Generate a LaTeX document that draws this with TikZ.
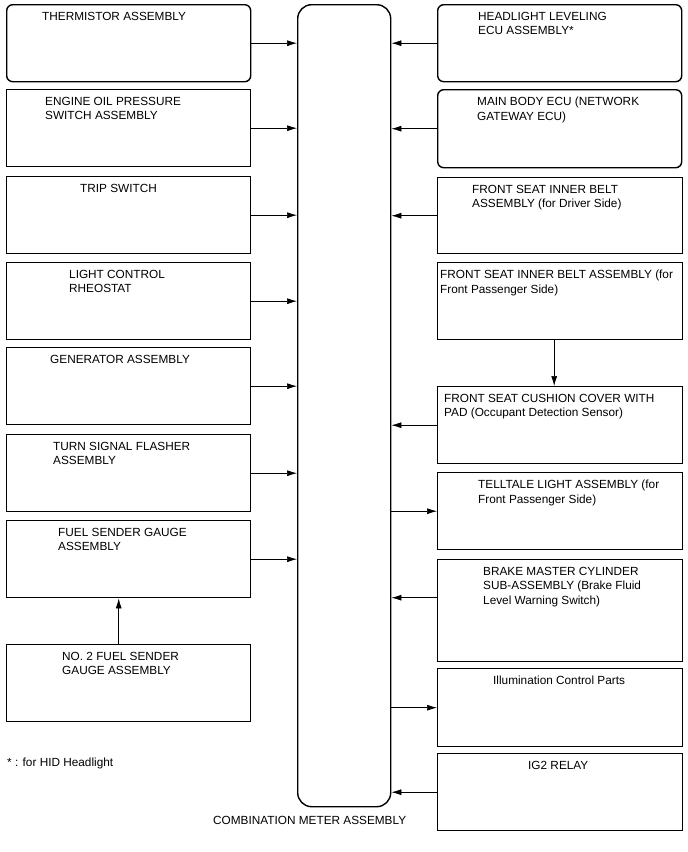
\documentclass[tikz,border=0pt]{standalone}
\usepackage{fontspec}
\setmainfont{Liberation Sans}
\usetikzlibrary{arrows.meta}

\begin{document}
\begin{tikzpicture}[x=1pt, y=-1pt,
  every node/.style={font=\fontsize{11.8}{14.5}\selectfont},
  unit/.style={rectangle, draw, line width=1.4pt, minimum width=244pt,
               minimum height=77pt, anchor=north west, inner sep=0pt},
  rnd/.style={unit, rounded corners=6pt},
  lbl/.style={anchor=north west, align=left, inner sep=0pt},
  arr/.style={-{Latex[length=10pt, width=6pt]}, line width=0.7pt}
]
\useasboundingbox (0,0) rectangle (688,852);

% combination meter
\node[draw, line width=1.4pt, rounded corners=14pt, minimum width=93pt,
      minimum height=802pt, anchor=north west, inner sep=0pt] (meter) at (297,4) {};
\node[lbl] (meterlbl) at (213,816) {COMBINATION METER ASSEMBLY};

% left column
\node[rnd]  (therm)  at (6,4)   {};
\node[unit] (engine) at (6,89)  {};
\node[unit] (trip)   at (6,176) {};
\node[unit] (light)  at (6,262) {};
\node[unit] (gen)    at (6,347) {};
\node[unit] (turn)   at (6,434) {};
\node[unit] (fuel)   at (6,520) {};
\node[unit] (fuel2)  at (6,644) {};

\node[lbl] (therm-t)  at (42,12)  {THERMISTOR ASSEMBLY};
\node[lbl] (engine-t) at (45,97)  {ENGINE OIL PRESSURE\\SWITCH ASSEMBLY};
\node[lbl] (trip-t)   at (80,184) {TRIP SWITCH};
\node[lbl] (light-t)  at (69,270) {LIGHT CONTROL\\RHEOSTAT};
\node[lbl] (gen-t)    at (50,355) {GENERATOR ASSEMBLY};
\node[lbl] (turn-t)   at (53,442) {TURN SIGNAL FLASHER\\ASSEMBLY};
\node[lbl] (fuel-t)   at (58,528) {FUEL SENDER GAUGE\\ASSEMBLY};
\node[lbl] (fuel2-t)  at (62,652) {NO. 2 FUEL SENDER\\GAUGE ASSEMBLY};

\node[lbl] (note) at (7,758) {* : for HID Headlight};

% right column
\node[rnd]  (hl)    at (437,4)   {};
\node[rnd, minimum height=78pt] (gw) at (437,89) {};
\node[unit, minimum width=245pt, minimum height=76pt] (fsid) at (437,177) {};
\node[unit, minimum width=245pt] (fsip)  at (437,262) {};
\node[unit, minimum width=245pt] (cush)  at (437,386) {};
\node[unit, minimum width=245pt] (tell)  at (437,472) {};
\node[unit, minimum width=245pt, minimum height=102pt] (brake) at (437,559) {};
\node[unit, minimum width=245pt, minimum height=78pt] (illum) at (437,668) {};
\node[unit, minimum width=245pt] (ig2)   at (437,753) {};

\node[lbl] (hl-t)    at (478,12)  {HEADLIGHT LEVELING\\ECU ASSEMBLY*};
\node[lbl] (gw-t)    at (477,97)  {MAIN BODY ECU (NETWORK\\GATEWAY ECU)};
\node[lbl] (fsid-t)  at (472,185) {FRONT SEAT INNER BELT\\ASSEMBLY (for Driver Side)};
\node[lbl] (fsip-t)  at (440,270) {FRONT SEAT INNER BELT ASSEMBLY (for\\Front Passenger Side)};
\node[lbl] (cush-t)  at (444,394) {FRONT SEAT CUSHION COVER WITH\\PAD (Occupant Detection Sensor)};
\node[lbl] (tell-t)  at (478,480) {TELLTALE LIGHT ASSEMBLY (for\\Front Passenger Side)};
\node[lbl] (brake-t) at (483,567) {BRAKE MASTER CYLINDER\\SUB-ASSEMBLY (Brake Fluid\\Level Warning Switch)};
\node[lbl] (illum-t) at (493,676) {Illumination Control Parts};
\node[lbl] (ig2-t)   at (528,761) {IG2 RELAY};

% left inputs
\draw[arr] (therm.east)  -- (therm.east -| meter.west);
\draw[arr] (engine.east) -- (engine.east -| meter.west);
\draw[arr] (trip.east)   -- (trip.east -| meter.west);
\draw[arr] (light.east)  -- (light.east -| meter.west);
\draw[arr] (gen.east)    -- (gen.east -| meter.west);
\draw[arr] (turn.east)   -- (turn.east -| meter.west);
\draw[arr] (fuel.east)   -- (fuel.east -| meter.west);
\draw[arr] ([xshift=-10pt]fuel2.north) -- ([xshift=-10pt]fuel.south);

% right inputs / outputs
\draw[arr] (hl.west)    -- (hl.west -| meter.east);
\draw[arr] (gw.west)    -- (gw.west -| meter.east);
\draw[arr] (fsid.west)  -- (fsid.west -| meter.east);
\draw[arr] ([xshift=-6pt]fsip.south) -- ([xshift=-6pt]cush.north);
\draw[arr] (cush.west)  -- (cush.west -| meter.east);
\draw[arr] (tell.west -| meter.east) -- (tell.west);
\draw[arr] ([yshift=13pt]brake.west) -- ([yshift=13pt]brake.west -| meter.east);
\draw[arr] (illum.west -| meter.east) -- (illum.west);
\draw[arr] (ig2.west)   -- (ig2.west -| meter.east);
\end{tikzpicture}
\end{document}
